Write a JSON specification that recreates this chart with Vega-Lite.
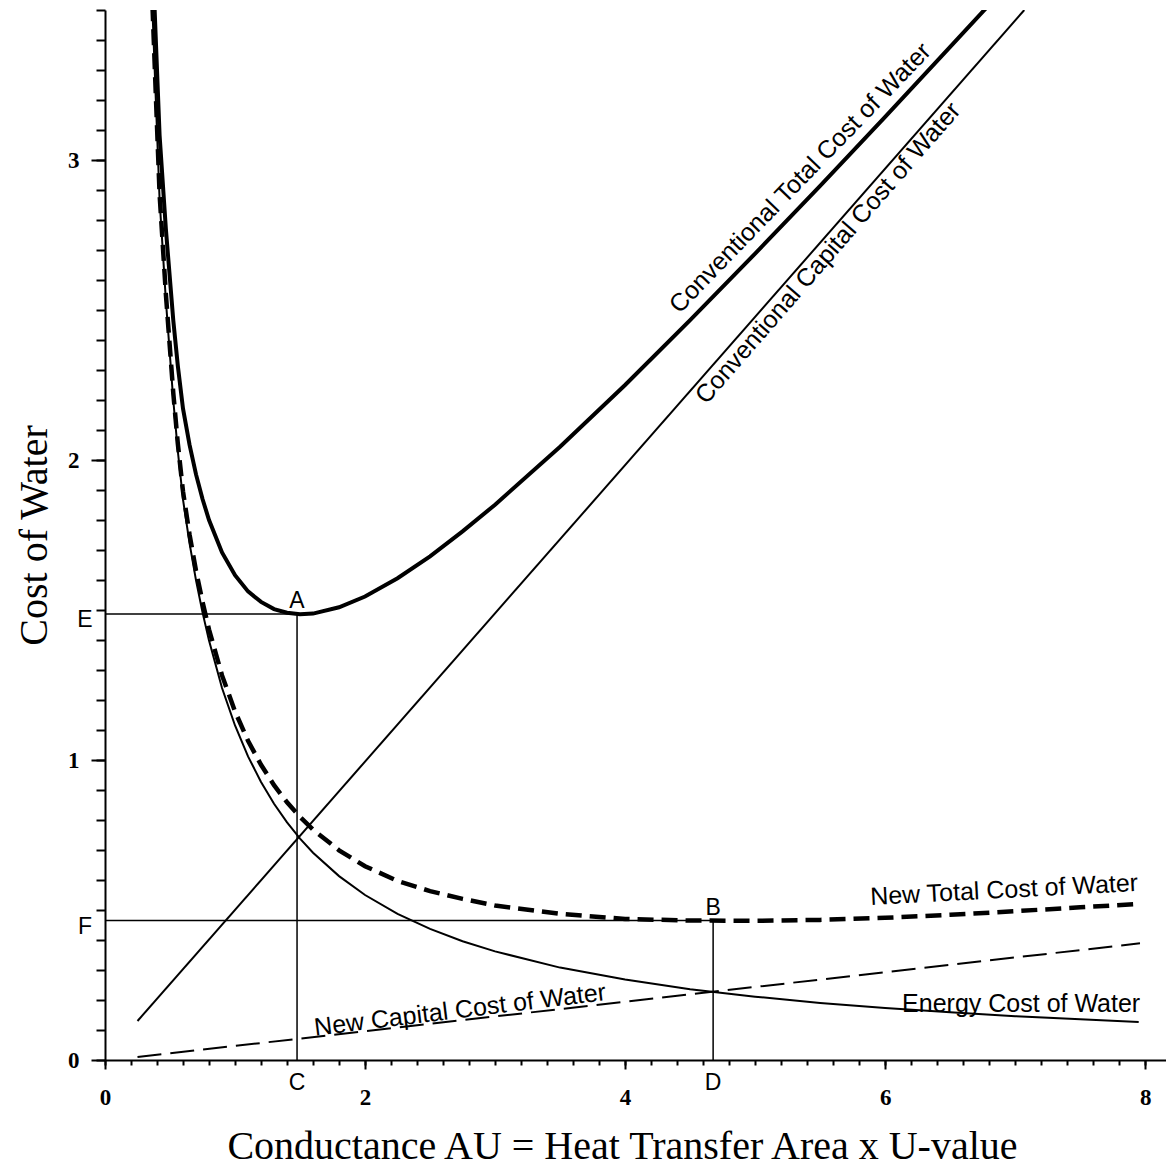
{
  "$schema": "https://vega.github.io/schema/vega-lite/v6.json",
  "width": 1061,
  "height": 1050,
  "autosize": {"type": "none"},
  "padding": {"left": 105, "top": 10, "right": 0, "bottom": 108},
  "background": "white",
  "config": {
    "view": {"stroke": null},
    "axis": {"grid": false, "domainColor": "black", "tickColor": "black", "labelColor": "black", "titleColor": "black"}
  },
  "datasets": {
    "curves": [
      {"x": 0.365, "E": 3.5, "T": 3.687, "N": 3.516},
      {"x": 0.39, "E": 3.21, "T": 3.41, "N": 3.227},
      {"x": 0.42, "E": 2.867, "T": 3.081, "N": 2.885},
      {"x": 0.468, "E": 2.533, "T": 2.771, "N": 2.554},
      {"x": 0.525, "E": 2.2, "T": 2.466, "N": 2.224},
      {"x": 0.56, "E": 2.03, "T": 2.314, "N": 2.055},
      {"x": 0.6, "E": 1.868, "T": 2.171, "N": 1.895},
      {"x": 0.65, "E": 1.723, "T": 2.051, "N": 1.752},
      {"x": 0.7, "E": 1.599, "T": 1.952, "N": 1.631},
      {"x": 0.75, "E": 1.492, "T": 1.87, "N": 1.527},
      {"x": 0.8, "E": 1.398, "T": 1.8, "N": 1.435},
      {"x": 0.9, "E": 1.24, "T": 1.692, "N": 1.282},
      {"x": 1.0, "E": 1.115, "T": 1.616, "N": 1.162},
      {"x": 1.1, "E": 1.012, "T": 1.562, "N": 1.064},
      {"x": 1.2, "E": 0.927, "T": 1.527, "N": 0.984},
      {"x": 1.3, "E": 0.854, "T": 1.503, "N": 0.916},
      {"x": 1.4, "E": 0.792, "T": 1.491, "N": 0.859},
      {"x": 1.5, "E": 0.738, "T": 1.486, "N": 0.81},
      {"x": 1.6, "E": 0.691, "T": 1.488, "N": 0.768},
      {"x": 1.8, "E": 0.613, "T": 1.509, "N": 0.699},
      {"x": 2.0, "E": 0.55, "T": 1.545, "N": 0.646},
      {"x": 2.25, "E": 0.487, "T": 1.606, "N": 0.597},
      {"x": 2.5, "E": 0.437, "T": 1.679, "N": 0.563},
      {"x": 2.75, "E": 0.396, "T": 1.762, "N": 0.537},
      {"x": 3.0, "E": 0.362, "T": 1.851, "N": 0.515},
      {"x": 3.5, "E": 0.308, "T": 2.044, "N": 0.487},
      {"x": 4.0, "E": 0.268, "T": 2.25, "N": 0.47},
      {"x": 4.5, "E": 0.236, "T": 2.466, "N": 0.465},
      {"x": 5.0, "E": 0.211, "T": 2.688, "N": 0.464},
      {"x": 5.5, "E": 0.19, "T": 2.914, "N": 0.467},
      {"x": 6.0, "E": 0.173, "T": 3.144, "N": 0.474},
      {"x": 6.5, "E": 0.159, "T": 3.377, "N": 0.484},
      {"x": 7.0, "E": 0.146, "T": 3.611, "N": 0.496},
      {"x": 7.5, "E": 0.136, "T": null, "N": 0.509},
      {"x": 7.95, "E": 0.127, "T": null, "N": 0.52}
    ],
    "capital": [
      {"x": 0.25, "y": 0.13},
      {"x": 7.07, "y": 3.5}
    ],
    "newcapital": [
      {"x": 0.25, "y": 0.01},
      {"x": 7.96, "y": 0.389}
    ],
    "refs": [
      {"x1": 0, "x2": 1.477, "y1": 1.487, "y2": 1.487},
      {"x1": 1.477, "x2": 1.477, "y1": 0, "y2": 1.487},
      {"x1": 0, "x2": 4.677, "y1": 0.465, "y2": 0.465},
      {"x1": 4.677, "x2": 4.677, "y1": 0, "y2": 0.465}
    ],
    "pointsTop": [
      {"label": "A", "x": 1.477, "y": 1.487},
      {"label": "B", "x": 4.677, "y": 0.465}
    ],
    "pointsBottom": [
      {"label": "C", "x": 1.477, "y": 0},
      {"label": "D", "x": 4.677, "y": 0}
    ],
    "pointsLeft": [
      {"label": "E", "x": 0, "y": 1.487},
      {"label": "F", "x": 0, "y": 0.465}
    ]
  },
  "layer": [
    {
      "data": {"name": "refs"},
      "mark": {"type": "rule", "color": "black", "strokeWidth": 1.5},
      "encoding": {
        "x": {"field": "x1", "type": "quantitative", "scale": {"domain": [0, 8.16], "nice": false, "zero": false},
          "axis": {"values": [0,0.2,0.4,0.6,0.8,1,1.2,1.4,1.6,1.8,2,2.2,2.4,2.6,2.8,3,3.2,3.4,3.6,3.8,4,4.2,4.4,4.6,4.8,5,5.2,5.4,5.6,5.8,6,6.2,6.4,6.6,6.8,7,7.2,7.4,7.6,7.8,8],
            "labels": false, "domain": false, "ticks": true, "tickSize": 5, "tickWidth": 2, "title": null, "orient": "bottom"}},
        "x2": {"field": "x2"},
        "y": {"field": "y1", "type": "quantitative", "scale": {"domain": [0, 3.5], "nice": false, "zero": false},
          "axis": {"values": [0,0.1,0.2,0.3,0.4,0.5,0.6,0.7,0.8,0.9,1,1.1,1.2,1.3,1.4,1.5,1.6,1.7,1.8,1.9,2,2.1,2.2,2.3,2.4,2.5,2.6,2.7,2.8,2.9,3,3.1,3.2,3.3,3.4,3.5],
            "labels": false, "domain": false, "ticks": true, "tickSize": 9, "tickWidth": 2, "title": null, "orient": "left"}},
        "y2": {"field": "y2"}
      }
    },
    {
      "mark": {"type": "rule", "color": "black", "strokeWidth": 2.5},
      "encoding": {
        "y": {"datum": 3.5, "type": "quantitative", "axis": null}
      }
    },
    {
      "data": {"name": "curves"},
      "mark": {"type": "line", "color": "black", "strokeWidth": 2, "clip": true},
      "encoding": {
        "x": {"field": "x", "type": "quantitative", "scale": {"domain": [0, 8.16], "nice": false, "zero": false},
          "axis": {"values": [0, 2, 4, 6, 8], "tickSize": 9, "tickWidth": 2, "domain": true, "domainWidth": 2, "labelFlush": false,
            "labelFont": "Liberation Serif", "labelFontWeight": "bold", "labelFontSize": 23, "labelPadding": 17,
            "title": "Conductance AU = Heat Transfer Area x U-value", "titleFont": "Liberation Serif", "titleFontSize": 40,
            "titleFontWeight": "normal", "titleX": 517, "titleY": 98, "titleAlign": "center", "titleBaseline": "alphabetic", "orient": "bottom"}},
        "y": {"field": "E", "type": "quantitative", "scale": {"domain": [0, 3.5], "nice": false, "zero": false},
          "axis": {"values": [0, 1, 2, 3], "tickSize": 14, "tickWidth": 2, "domain": true, "domainWidth": 2,
            "labelFont": "Liberation Serif", "labelFontWeight": "bold", "labelFontSize": 23, "labelPadding": 12,
            "title": "Cost of Water", "titleFont": "Liberation Serif", "titleFontSize": 40, "titleFontWeight": "normal",
            "titleAngle": 270, "titleX": -59, "titleY": 525, "titleAlign": "center", "titleBaseline": "alphabetic", "orient": "left"}}
      }
    },
    {
      "data": {"name": "curves"},
      "mark": {"type": "line", "color": "black", "strokeWidth": 4, "clip": true},
      "encoding": {
        "x": {"field": "x", "type": "quantitative", "axis": null},
        "y": {"field": "T", "type": "quantitative", "axis": null}
      }
    },
    {
      "data": {"name": "curves"},
      "mark": {"type": "line", "color": "black", "strokeWidth": 4.5, "strokeDash": [16, 8], "clip": true},
      "encoding": {
        "x": {"field": "x", "type": "quantitative", "axis": null},
        "y": {"field": "N", "type": "quantitative", "axis": null}
      }
    },
    {
      "data": {"name": "capital"},
      "mark": {"type": "line", "color": "black", "strokeWidth": 2, "clip": true},
      "encoding": {
        "x": {"field": "x", "type": "quantitative", "axis": null},
        "y": {"field": "y", "type": "quantitative", "axis": null}
      }
    },
    {
      "data": {"name": "newcapital"},
      "mark": {"type": "line", "color": "black", "strokeWidth": 2, "strokeDash": [24, 9], "clip": true},
      "encoding": {
        "x": {"field": "x", "type": "quantitative", "axis": null},
        "y": {"field": "y", "type": "quantitative", "axis": null}
      }
    },
    {
      "data": {"name": "pointsTop"},
      "mark": {"type": "text", "font": "Liberation Sans", "fontSize": 23, "color": "black", "align": "center", "baseline": "middle", "dy": -13},
      "encoding": {
        "x": {"field": "x", "type": "quantitative", "axis": null},
        "y": {"field": "y", "type": "quantitative", "axis": null},
        "text": {"field": "label"}
      }
    },
    {
      "data": {"name": "pointsBottom"},
      "mark": {"type": "text", "font": "Liberation Sans", "fontSize": 23, "color": "black", "align": "center", "baseline": "middle", "dy": 23},
      "encoding": {
        "x": {"field": "x", "type": "quantitative", "axis": null},
        "y": {"field": "y", "type": "quantitative", "axis": null},
        "text": {"field": "label"}
      }
    },
    {
      "data": {"name": "pointsLeft"},
      "mark": {"type": "text", "font": "Liberation Sans", "fontSize": 23, "color": "black", "align": "center", "baseline": "middle", "dx": -20, "dy": 6},
      "encoding": {
        "x": {"field": "x", "type": "quantitative", "axis": null},
        "y": {"field": "y", "type": "quantitative", "axis": null},
        "text": {"field": "label"}
      }
    },
    {
      "data": {"values": [{"label": "Conventional Total Cost of Water", "x": 5.346, "y": 2.94}]},
      "mark": {"type": "text", "font": "Liberation Sans", "fontSize": 25, "color": "black", "align": "center", "baseline": "middle", "angle": -46},
      "encoding": {
        "x": {"field": "x", "type": "quantitative", "axis": null},
        "y": {"field": "y", "type": "quantitative", "axis": null},
        "text": {"field": "label"}
      }
    },
    {
      "data": {"values": [{"label": "Conventional Capital Cost of Water", "x": 5.56, "y": 2.69}]},
      "mark": {"type": "text", "font": "Liberation Sans", "fontSize": 25, "color": "black", "align": "center", "baseline": "middle", "angle": -49},
      "encoding": {
        "x": {"field": "x", "type": "quantitative", "axis": null},
        "y": {"field": "y", "type": "quantitative", "axis": null},
        "text": {"field": "label"}
      }
    },
    {
      "data": {"values": [{"label": "New Total Cost of Water", "x": 6.915, "y": 0.567}]},
      "mark": {"type": "text", "font": "Liberation Sans", "fontSize": 25, "color": "black", "align": "center", "baseline": "middle", "angle": -3},
      "encoding": {
        "x": {"field": "x", "type": "quantitative", "axis": null},
        "y": {"field": "y", "type": "quantitative", "axis": null},
        "text": {"field": "label"}
      }
    },
    {
      "data": {"values": [{"label": "New Capital Cost of Water", "x": 2.731, "y": 0.167}]},
      "mark": {"type": "text", "font": "Liberation Sans", "fontSize": 25, "color": "black", "align": "center", "baseline": "middle", "angle": -7},
      "encoding": {
        "x": {"field": "x", "type": "quantitative", "axis": null},
        "y": {"field": "y", "type": "quantitative", "axis": null},
        "text": {"field": "label"}
      }
    },
    {
      "data": {"values": [{"label": "Energy Cost of Water", "x": 7.046, "y": 0.187}]},
      "mark": {"type": "text", "font": "Liberation Sans", "fontSize": 25, "color": "black", "align": "center", "baseline": "middle", "angle": 0},
      "encoding": {
        "x": {"field": "x", "type": "quantitative", "axis": null},
        "y": {"field": "y", "type": "quantitative", "axis": null},
        "text": {"field": "label"}
      }
    }
  ],
  "resolve": {"axis": {"x": "independent", "y": "independent"}}
}
